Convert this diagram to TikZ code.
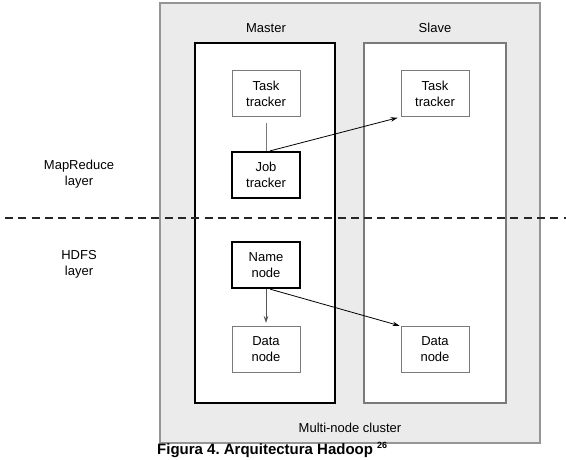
\documentclass[tikz,border=0pt]{standalone}
\usepackage{fontspec}
\setmainfont{Liberation Sans}
\usetikzlibrary{arrows.meta,positioning,calc}
\frenchspacing

\definecolor{clusterbg}{HTML}{EBEBEB}
\definecolor{linegray}{HTML}{7A7A7A}

\tikzset{
	layerbox/.style={draw=linegray, line width=1pt, fill=white, minimum width=68pt, minimum height=46pt, align=center, font=\fontsize{13}{16}\selectfont, inner sep=0pt},
	mainbox/.style={layerbox, draw=black, line width=2.2pt},
	link/.style={draw=black, line width=0.8pt, -{Stealth[length=7pt,width=4.5pt]}},
	toptext/.style={font=\fontsize{13}{16}\selectfont, align=center}
}

\begin{document}
\begin{tikzpicture}[x=1pt,y=-1pt]
	\useasboundingbox (0,0) rectangle (566,459);
	% cluster and machines
	\draw[draw=linegray!80, line width=1.8pt, fill=clusterbg] (160,3) rectangle (540,443);
	\draw[black, line width=2.6pt, fill=white] (195,43) rectangle (335,403);
	\draw[linegray, line width=1.3pt, fill=white] (364,43) rectangle (506,403);
	\node[toptext] (master) at (266,28) {Master};
	\node[toptext] (slave) at (435,28) {Slave};
	\node[toptext] (cluster) at (350,428) {Multi-node cluster};

	% boxes
	\node[layerbox] (mtask) at (266,93.5) {Task\\tracker};
	\node[mainbox] (job) at (266,175) {Job\\tracker};
	\node[mainbox] (name) at (266,265) {Name\\node};
	\node[layerbox] (mdata) at (266,349.5) {Data\\node};
	\node[layerbox] (stask) at (435,93.5) {Task\\tracker};
	\node[layerbox] (sdata) at (435,349.5) {Data\\node};

	% connections
	\draw[linegray, line width=1pt, shorten <=6pt] (mtask.south) -- (job.north);
	\draw[link, shorten >=3pt] ($(job.north)+(4,0)$) -- (stask.south west);
	\draw[link, draw=linegray!70!black, shorten >=3pt] (name.south) -- (mdata.north);
	\draw[link, shorten >=1pt] ($(name.south)+(4,0)$) -- (sdata.north west);

	% layers
	\node[toptext] (mapred) at (79,174) {MapReduce\\layer};
	\node[toptext] (hdfs) at (79,264) {HDFS\\layer};
	\draw[black!85, line width=2.4pt, dash pattern=on 8pt off 5.3pt] (5,218) -- (566,218);

	% caption
	\node[font=\bfseries\fontsize{15}{18}\selectfont, anchor=base west, inner sep=0pt] (caption) at (157,454.5) {Figura 4. Arquitectura Hadoop \raisebox{6pt}{\fontsize{9}{9}\selectfont 26}};
\end{tikzpicture}
\end{document}
